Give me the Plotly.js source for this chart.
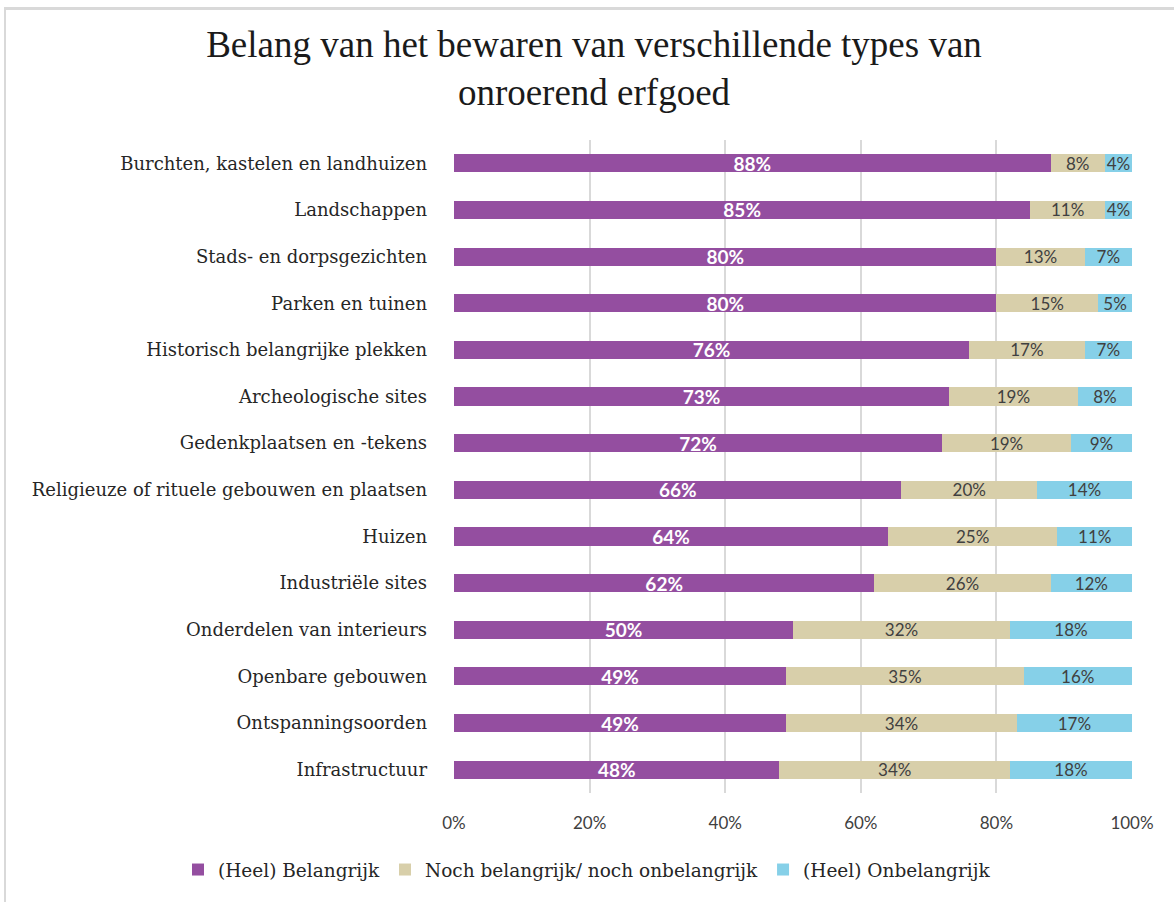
<!DOCTYPE html>
<html>
<head>
<meta charset="utf-8">
<script src="https://cdn.plot.ly/plotly-3.0.1.min.js"></script>
<style>
  html, body { margin: 0; padding: 0; background: #ffffff; }
  #chart { position: absolute; left: 0; top: 0; width: 1174px; height: 902px; }
  #frame { position: absolute; left: 4px; top: 7px; width: 1180px; height: 900px;
           border-left: 2px solid #d9d9d9; border-top: 3px solid #d9d9d9; pointer-events: none; }
</style>
</head>
<body>
<div id="chart"></div>
<div id="frame"></div>
<script>
const categories = [
  "Burchten, kastelen en landhuizen",
  "Landschappen",
  "Stads- en dorpsgezichten",
  "Parken en tuinen",
  "Historisch belangrijke plekken",
  "Archeologische sites",
  "Gedenkplaatsen en -tekens",
  "Religieuze of rituele gebouwen en plaatsen",
  "Huizen",
  "Industriële sites",
  "Onderdelen van interieurs",
  "Openbare gebouwen",
  "Ontspanningsoorden",
  "Infrastructuur"
];
const belangrijk   = [88, 85, 80, 80, 76, 73, 72, 66, 64, 62, 50, 49, 49, 48];
const neutraal     = [8, 11, 13, 15, 17, 19, 19, 20, 25, 26, 32, 35, 34, 34];
const onbelangrijk = [4, 4, 7, 5, 7, 8, 9, 14, 11, 12, 18, 16, 17, 18];
const seriesNames = ["(Heel) Belangrijk", "Noch belangrijk/ noch onbelangrijk", "(Heel) Onbelangrijk"];
const tickVals = [0, 20, 40, 60, 80, 100];
const tickText = ["0%", "20%", "40%", "60%", "80%", "100%"];

const colors = ["#944ea0", "#d8cfaa", "#86d0e8"];
const labelFonts = [
  {family: "Lato", size: 19, color: "#ffffff", weight: 700},
  {family: "Lato", size: 17, color: "#404040"},
  {family: "Lato", size: 17, color: "#404040"}
];
const allSeries = [belangrijk, neutraal, onbelangrijk];

const traces = allSeries.map((vals, i) => ({
  type: "bar",
  orientation: "h",
  name: seriesNames[i],
  y: categories,
  x: vals,
  marker: {color: colors[i]},
  text: vals.map(v => v + "%"),
  texttemplate: "%{text}",
  textposition: "inside",
  insidetextanchor: "middle",
  textangle: 0,
  constraintext: "none",
  insidetextfont: labelFonts[i],
  hoverinfo: "name+x"
}));

const layout = {
  width: 1174,
  height: 902,
  barmode: "stack",
  bargap: 0.61,
  paper_bgcolor: "#ffffff",
  plot_bgcolor: "#ffffff",
  margin: {l: 454, r: 42, t: 140, b: 109, autoexpand: false},
  title: {
    text: "Belang van het bewaren van verschillende types van<br>onroerend erfgoed",
    font: {family: "Liberation Serif", size: 37, color: "#1a1a1a"},
    x: 594 / 1174,
    xanchor: "center",
    xref: "container",
    y: 1 - 57 / 902,
    yanchor: "middle",
    yref: "container"
  },
  xaxis: {
    range: [0, 100],
    tickvals: tickVals,
    ticktext: tickText,
    showgrid: true,
    gridcolor: "#d9d9d9",
    gridwidth: 2,
    zeroline: false,
    showline: false,
    ticks: "",
    tickfont: {family: "Lato", size: 17, color: "#404040"},
    ticklabelstandoff: 18,
    fixedrange: true
  },
  yaxis: {
    type: "category",
    autorange: "reversed",
    showgrid: false,
    zeroline: false,
    showline: false,
    ticks: "",
    tickfont: {family: "DejaVu Serif", size: 18, color: "#262626"},
    ticklabelstandoff: 26,
    fixedrange: true
  },
  showlegend: true,
  legend: {
    orientation: "h",
    x: (178 - 454) / 678,
    xanchor: "left",
    y: (793 - 870) / 653,
    yanchor: "middle",
    font: {family: "DejaVu Serif", size: 18.5, color: "#262626"},
    traceorder: "normal"
  }
};

Plotly.newPlot("chart", traces, layout, {displayModeBar: false, staticPlot: true});
</script>
</body>
</html>
